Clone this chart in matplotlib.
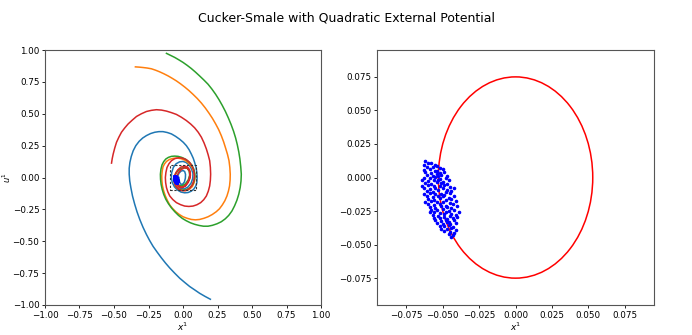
import matplotlib
matplotlib.use("Agg")
import matplotlib.pyplot as plt
from matplotlib.patches import Ellipse, Rectangle

# ---- trajectories (x^1, u^1) ----
blue_x = [0.198, 0.16, 0.12, 0.085, 0.048, 0.012, -0.024, -0.06, -0.096, -0.127, -0.157, -0.187, -0.217,
          -0.242, -0.265, -0.29, -0.313, -0.333, -0.35, -0.366, -0.378, -0.386, -0.39, -0.39, -0.385, -0.375,
          -0.361, -0.342, -0.318, -0.292, -0.265, -0.235, -0.205, -0.175, -0.145, -0.114, -0.084, -0.054,
          -0.024, 0.002, 0.024, 0.044, 0.06, 0.074, 0.084, 0.094, 0.10, 0.102, 0.10, 0.092, 0.077, 0.058,
          0.036, 0.012, -0.015, -0.04, -0.062, -0.078, -0.085, -0.082, -0.07, -0.05, -0.025, 0.0, 0.022,
          0.045, 0.062, 0.072, 0.07, 0.058, 0.035, 0.008, -0.018, -0.036, -0.043, -0.04, -0.03, -0.015, 0.0,
          0.012, 0.018, 0.017, 0.01, -0.003, -0.017, -0.026, -0.03]
blue_u = [-0.955, -0.933, -0.908, -0.882, -0.855, -0.823, -0.79, -0.751, -0.71, -0.671, -0.63, -0.586,
          -0.54, -0.494, -0.447, -0.39, -0.33, -0.27, -0.21, -0.145, -0.079, -0.027, 0.026, 0.072, 0.118,
          0.165, 0.21, 0.25, 0.284, 0.31, 0.329, 0.345, 0.355, 0.36, 0.36, 0.353, 0.342, 0.323, 0.30, 0.276,
          0.25, 0.218, 0.184, 0.151, 0.118, 0.08, 0.04, 0.0, -0.04, -0.068, -0.092, -0.108, -0.118, -0.12,
          -0.114, -0.098, -0.074, -0.04, 0.0, 0.04, 0.08, 0.108, 0.123, 0.126, 0.118, 0.097, 0.066, 0.03,
          -0.008, -0.045, -0.075, -0.09, -0.085, -0.06, -0.028, 0.006, 0.033, 0.05, 0.055, 0.047, 0.025,
          -0.005, -0.035, -0.053, -0.052, -0.033, 0.0]

orange_x = [-0.345, -0.318, -0.29, -0.26, -0.229, -0.199, -0.169, -0.139, -0.108, -0.078, -0.048, -0.018,
            0.012, 0.042, 0.072, 0.103, 0.133, 0.161, 0.188, 0.213, 0.236, 0.258, 0.277, 0.294, 0.308,
            0.322, 0.333, 0.339, 0.342, 0.341, 0.337, 0.329, 0.318, 0.303, 0.284, 0.264, 0.241, 0.212,
            0.181, 0.151, 0.12, 0.09, 0.06, 0.03, 0.0, -0.027, -0.053, -0.076, -0.096, -0.113, -0.128,
            -0.14, -0.149, -0.153, -0.154, -0.151, -0.145, -0.134, -0.12, -0.098, -0.072, -0.045, -0.015,
            0.015, 0.042, 0.065, 0.08, 0.086, 0.082, 0.068, 0.045, 0.016, -0.012, -0.038, -0.057, -0.066,
            -0.062, -0.047, -0.022, 0.006, 0.032, 0.049, 0.054, 0.046, 0.027, 0.0, -0.025, -0.042, -0.05]
orange_u = [0.868, 0.866, 0.863, 0.859, 0.853, 0.842, 0.829, 0.814, 0.797, 0.778, 0.758, 0.735, 0.71,
            0.683, 0.653, 0.62, 0.584, 0.546, 0.505, 0.464, 0.421, 0.376, 0.329, 0.28, 0.232, 0.182, 0.132,
            0.079, 0.026, -0.02, -0.066, -0.106, -0.145, -0.182, -0.216, -0.245, -0.268, -0.29, -0.308,
            -0.32, -0.329, -0.332, -0.329, -0.32, -0.308, -0.29, -0.268, -0.243, -0.216, -0.181, -0.145,
            -0.106, -0.066, -0.027, 0.013, 0.05, 0.084, 0.107, 0.126, 0.142, 0.15, 0.153, 0.148, 0.135,
            0.112, 0.08, 0.043, 0.003, -0.037, -0.07, -0.093, -0.103, -0.1, -0.084, -0.058, -0.024, 0.012,
            0.045, 0.068, 0.078, 0.072, 0.05, 0.018, -0.017, -0.047, -0.066, -0.065, -0.045, -0.01]

green_x = [-0.12, -0.09, -0.06, -0.03, 0.0, 0.03, 0.06, 0.09, 0.12, 0.151, 0.181, 0.209, 0.236, 0.261,
           0.284, 0.307, 0.328, 0.348, 0.366, 0.381, 0.393, 0.404, 0.412, 0.418, 0.422, 0.42, 0.414, 0.404,
           0.39, 0.373, 0.354, 0.331, 0.306, 0.277, 0.246, 0.213, 0.181, 0.148, 0.116, 0.084, 0.053, 0.023,
           -0.005, -0.033, -0.06, -0.084, -0.106, -0.125, -0.14, -0.151, -0.159, -0.163, -0.164, -0.16,
           -0.152, -0.14, -0.125, -0.106, -0.084, -0.06, -0.036, -0.01, 0.016, 0.04, 0.062, 0.078, 0.086,
           0.084, 0.072, 0.05, 0.022, -0.008, -0.035, -0.055, -0.065, -0.062, -0.048, -0.022, 0.006, 0.03,
           0.045, 0.048, 0.038, 0.017, -0.01, -0.034, -0.048, -0.05]
green_u = [0.974, 0.958, 0.942, 0.923, 0.903, 0.88, 0.855, 0.827, 0.797, 0.765, 0.732, 0.694, 0.653,
           0.61, 0.566, 0.518, 0.468, 0.416, 0.363, 0.31, 0.258, 0.2, 0.145, 0.085, 0.026, -0.027, -0.079,
           -0.13, -0.179, -0.223, -0.263, -0.297, -0.324, -0.347, -0.363, -0.375, -0.382, -0.382, -0.376,
           -0.367, -0.355, -0.339, -0.321, -0.297, -0.268, -0.238, -0.205, -0.17, -0.132, -0.093, -0.053,
           -0.013, 0.026, 0.065, 0.1, 0.125, 0.145, 0.158, 0.166, 0.168, 0.166, 0.158, 0.145, 0.125, 0.1,
           0.066, 0.028, -0.012, -0.05, -0.08, -0.097, -0.1, -0.09, -0.066, -0.032, 0.006, 0.04, 0.066,
           0.078, 0.073, 0.05, 0.018, -0.018, -0.05, -0.066, -0.06, -0.038, -0.01]

red_x = [-0.518, -0.513, -0.506, -0.495, -0.482, -0.465, -0.446, -0.423, -0.398, -0.368, -0.337, -0.302,
         -0.265, -0.229, -0.193, -0.156, -0.12, -0.084, -0.048, -0.012, 0.024, 0.055, 0.084, 0.11, 0.133,
         0.152, 0.169, 0.182, 0.193, 0.198, 0.2, 0.198, 0.193, 0.183, 0.169, 0.15, 0.128, 0.1, 0.072,
         0.042, 0.012, -0.018, -0.048, -0.074, -0.096, -0.11, -0.12, -0.126, -0.128, -0.124, -0.116,
         -0.102, -0.084, -0.06, -0.032, -0.004, 0.024, 0.048, 0.066, 0.078, 0.082, 0.078, 0.066, 0.046,
         0.02, -0.008, -0.033, -0.052, -0.063, -0.064, -0.055, -0.038, -0.015, 0.01, 0.032, 0.047, 0.053,
         0.05, 0.038, 0.018, -0.006, -0.028, -0.043, -0.05, -0.047, -0.034, -0.014, 0.01, 0.03, 0.045,
         0.05, 0.045, 0.03, 0.008, -0.015, -0.035, -0.047, -0.05]
red_u = [0.113, 0.148, 0.184, 0.23, 0.276, 0.316, 0.355, 0.388, 0.42, 0.45, 0.479, 0.5, 0.518, 0.527,
         0.532, 0.529, 0.521, 0.509, 0.495, 0.473, 0.447, 0.42, 0.39, 0.355, 0.316, 0.272, 0.224, 0.178,
         0.132, 0.08, 0.026, -0.022, -0.066, -0.107, -0.145, -0.174, -0.197, -0.214, -0.224, -0.227,
         -0.224, -0.213, -0.197, -0.173, -0.145, -0.113, -0.079, -0.04, 0.0, 0.04, 0.079, 0.108, 0.132,
         0.148, 0.155, 0.152, 0.14, 0.118, 0.09, 0.055, 0.015, -0.025, -0.06, -0.087, -0.102, -0.103,
         -0.092, -0.07, -0.04, -0.005, 0.03, 0.06, 0.082, 0.09, 0.083, 0.062, 0.032, -0.003, -0.038,
         -0.066, -0.08, -0.078, -0.06, -0.03, 0.003, 0.036, 0.062, 0.076, 0.074, 0.055, 0.025, -0.01,
         -0.045, -0.07, -0.076, -0.062, -0.035, 0.0]

# ---- limit orbit (ellipse) ----
orbit_center = (0.0, 0.0)
orbit_halfwidth = 0.053
orbit_halfheight = 0.075

# ---- particle cloud (x^1, u^1) ----
px = [-0.062, -0.058,
      -0.063, -0.060, -0.055,
      -0.061, -0.057, -0.054, -0.052,
      -0.063, -0.059, -0.055, -0.050,
      -0.062, -0.058, -0.054, -0.052, -0.049,
      -0.061, -0.057, -0.054, -0.053, -0.051, -0.047,
      -0.063, -0.059, -0.055, -0.052, -0.048,
      -0.064, -0.060, -0.056, -0.053, -0.050, -0.046,
      -0.062, -0.058, -0.054, -0.051, -0.047,
      -0.064, -0.060, -0.056, -0.052, -0.049, -0.045,
      -0.063, -0.059, -0.055, -0.050, -0.047, -0.042,
      -0.061, -0.057, -0.053, -0.048, -0.044,
      -0.063, -0.059, -0.055, -0.051, -0.049, -0.045,
      -0.061, -0.057, -0.053, -0.050, -0.046, -0.042,
      -0.060, -0.056, -0.052, -0.048, -0.044,
      -0.062, -0.058, -0.054, -0.050, -0.045, -0.041,
      -0.060, -0.056, -0.052, -0.048, -0.043,
      -0.059, -0.055, -0.051, -0.047, -0.044, -0.040,
      -0.058, -0.054, -0.050, -0.046, -0.042,
      -0.059, -0.056, -0.052, -0.048, -0.044, -0.039,
      -0.057, -0.053, -0.049, -0.045, -0.041,
      -0.056, -0.052, -0.049, -0.047, -0.043, -0.040,
      -0.055, -0.051, -0.048, -0.046, -0.042,
      -0.054, -0.050, -0.047, -0.045, -0.041,
      -0.052, -0.049, -0.046, -0.043,
      -0.051, -0.047, -0.044, -0.041,
      -0.049, -0.045, -0.042,
      -0.046, -0.043,
      -0.044]
py = [0.012, 0.011,
      0.0095, 0.0105, 0.009,
      0.0075, 0.008, 0.0085, 0.007,
      0.0055, 0.0065, 0.005, 0.006,
      0.004, 0.0035, 0.0045, 0.003, 0.004,
      0.002, 0.0015, 0.0025, 0.001, 0.002, 0.0015,
      0.0, -0.0005, 0.0005, -0.001, 0.0,
      -0.002, -0.0025, -0.0015, -0.002, -0.003, -0.0015,
      -0.004, -0.0045, -0.0035, -0.004, -0.005,
      -0.006, -0.0055, -0.0065, -0.006, -0.0055, -0.007,
      -0.008, -0.0085, -0.0075, -0.008, -0.009, -0.008,
      -0.010, -0.0105, -0.0095, -0.011, -0.010,
      -0.012, -0.0115, -0.0125, -0.012, -0.013, -0.0115,
      -0.014, -0.0145, -0.0135, -0.014, -0.015, -0.0135,
      -0.016, -0.0165, -0.0155, -0.017, -0.016,
      -0.018, -0.0175, -0.0185, -0.018, -0.019, -0.0175,
      -0.020, -0.0205, -0.0195, -0.021, -0.020,
      -0.022, -0.0225, -0.0215, -0.022, -0.023, -0.0215,
      -0.024, -0.0245, -0.0235, -0.025, -0.024,
      -0.026, -0.0255, -0.0265, -0.026, -0.027, -0.0255,
      -0.028, -0.0285, -0.0275, -0.029, -0.028,
      -0.030, -0.0305, -0.0295, -0.031, -0.030, -0.0295,
      -0.032, -0.0325, -0.0315, -0.033, -0.032,
      -0.034, -0.0345, -0.0335, -0.035, -0.034,
      -0.036, -0.0365, -0.0355, -0.037,
      -0.038, -0.0385, -0.0375, -0.039,
      -0.040, -0.0405, -0.041,
      -0.042, -0.043,
      -0.044]

zoom_lim = 0.095
left_ticks = [-1.0, -0.75, -0.5, -0.25, 0.0, 0.25, 0.5, 0.75, 1.0]
right_ticks = [-0.075, -0.05, -0.025, 0.0, 0.025, 0.05, 0.075]

plt.rcParams['font.family'] = ['DejaVu Sans']
fig = plt.figure(figsize=(6.92, 3.35), dpi=100)
fig.suptitle("Cucker-Smale with Quadratic External Potential", fontsize=9.0, y=0.965)

ax1 = fig.add_axes([0.065, 0.0896, 0.399, 0.761])
ax2 = fig.add_axes([0.545, 0.0896, 0.400, 0.761])

lw = 1.1
ax1.plot(blue_x, blue_u, color='tab:blue', lw=lw)
ax1.plot(orange_x, orange_u, color='tab:orange', lw=lw)
ax1.plot(green_x, green_u, color='tab:green', lw=lw)
ax1.plot(red_x, red_u, color='tab:red', lw=lw)
ax1.scatter(px, py, s=1.5, color='blue', zorder=5)
ax1.add_patch(Rectangle((-zoom_lim, -zoom_lim), 2 * zoom_lim, 2 * zoom_lim, fill=False,
                        ls=(0, (2, 1.5)), lw=0.8, edgecolor='#333333', zorder=6))
ax1.set_xlim(-1, 1)
ax1.set_ylim(-1, 1)
ax1.set_xticks(left_ticks)
ax1.set_yticks(left_ticks)
ax1.set_xlabel("$x^1$", fontsize=6.5, labelpad=1)
ax1.set_ylabel("$u^1$", fontsize=6.0, labelpad=0)

ax2.add_patch(Ellipse(orbit_center, 2 * orbit_halfwidth, 2 * orbit_halfheight, fill=False,
                      edgecolor='red', lw=1.1))
ax2.scatter(px, py, s=2.5, color='blue', zorder=5)
ax2.set_xlim(-zoom_lim, zoom_lim)
ax2.set_ylim(-zoom_lim, zoom_lim)
ax2.set_xticks(right_ticks)
ax2.set_yticks(right_ticks)
ax2.set_xlabel("$x^1$", fontsize=6.5, labelpad=1)

for ax in (ax1, ax2):
    ax.tick_params(labelsize=6.3, length=2.5, width=0.6, pad=1.5)
    for s in ax.spines.values():
        s.set_linewidth(0.8)
        s.set_edgecolor('#555555')

fig.savefig("out.png", dpi=100)
